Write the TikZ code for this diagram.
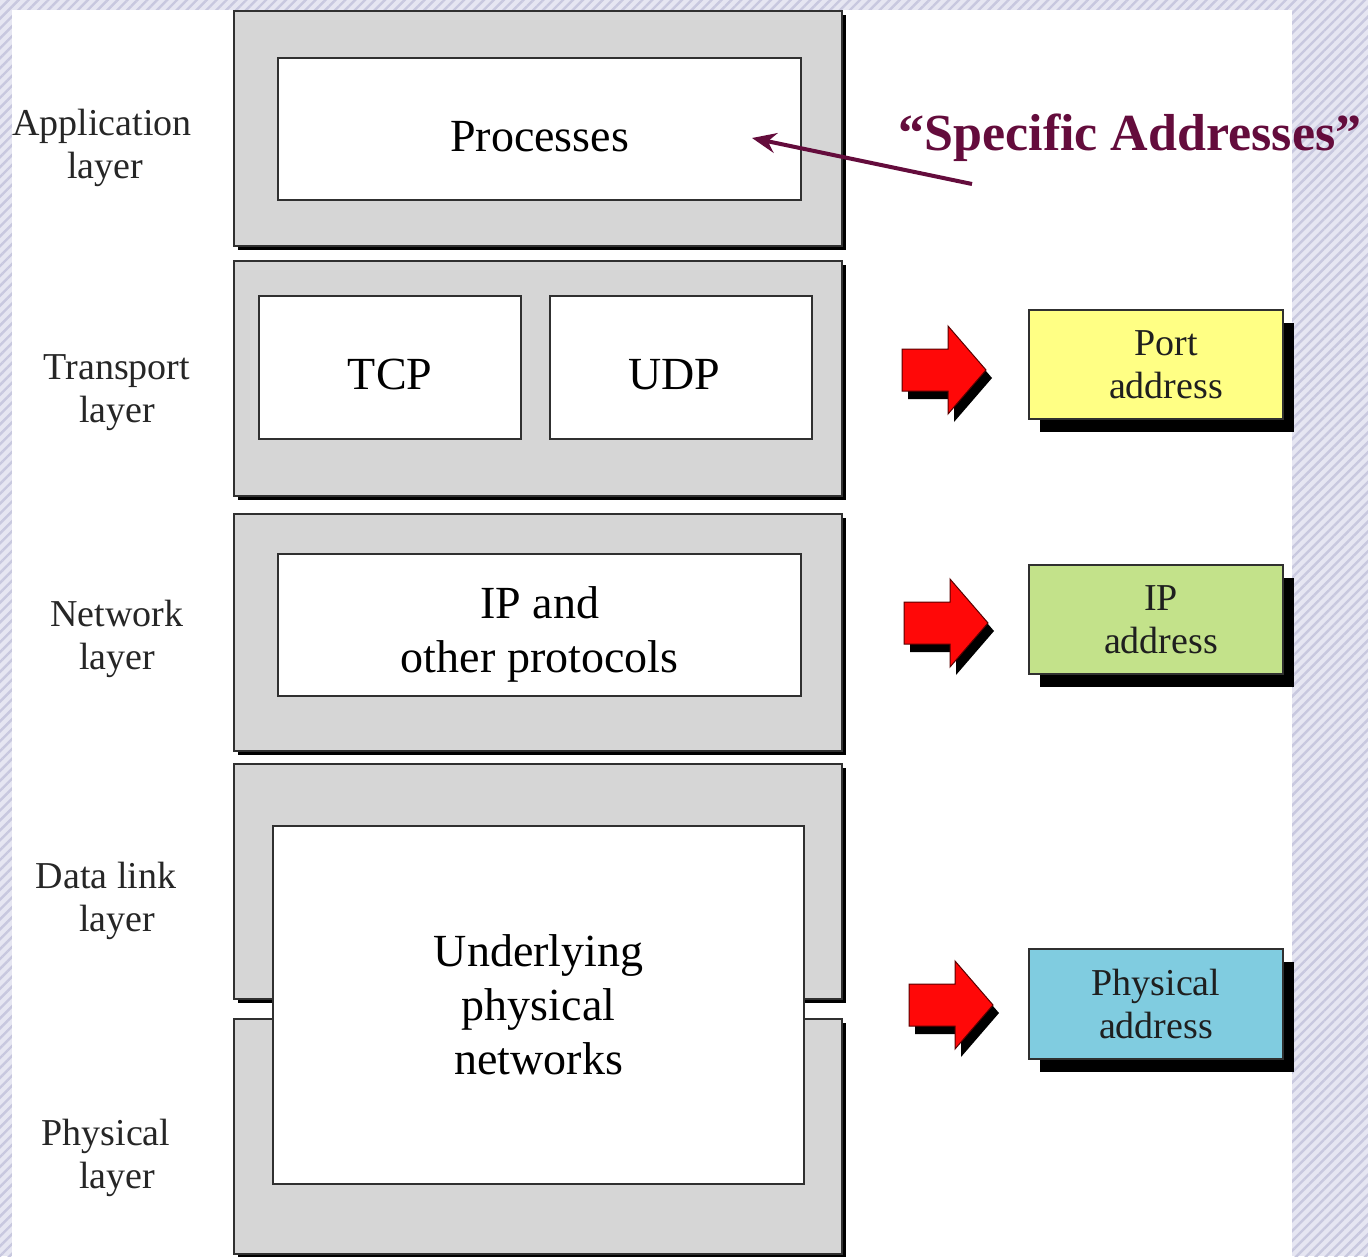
\documentclass[tikz,border=0pt]{standalone}
\usepackage{fontspec}
\setmainfont{Liberation Serif}
\usetikzlibrary{patterns.meta,shadows,arrows.meta}

\definecolor{hatchbase}{HTML}{E6E6F2}
\definecolor{hatchline}{HTML}{C8C8DF}
\definecolor{layergray}{HTML}{D6D6D6}
\definecolor{edgegray}{HTML}{303030}
\definecolor{portyellow}{HTML}{FFFF84}
\definecolor{ipgreen}{HTML}{C3E28A}
\definecolor{phyblue}{HTML}{80CCE0}
\definecolor{plum}{RGB}{100,12,60}
\definecolor{arrowred}{HTML}{FF0808}

\begin{document}
\begin{tikzpicture}[x=1pt,y=-1pt,
  layerbox/.style={draw=edgegray, line width=2pt, fill=layergray,
    anchor=north west, inner sep=0pt, minimum width=608pt,
    drop shadow={shadow xshift=4pt, shadow yshift=-4pt, fill=black, opacity=1}},
  innerbox/.style={draw=edgegray, line width=2.2pt, fill=white,
    anchor=north west, inner sep=0pt, align=center,
    font=\fontsize{46}{54}\selectfont},
  lowtext/.style={text height=44pt, text depth=0pt},
  addrbox/.style={draw=edgegray, line width=2pt, anchor=north west,
    inner sep=0pt, minimum width=254pt, align=center,
    font=\fontsize{38}{43}\selectfont, text=black!88,
    drop shadow={shadow xshift=11pt, shadow yshift=-13pt, fill=black, opacity=1}},
  lbl/.style={font=\fontsize{38}{43}\selectfont, align=center, text=black!85},
  redarrow/.pic={
    \fill[black, shift={(6,8)}]
      (0,-21) -- (46,-21) -- (46,-44) -- (84,0) -- (46,44) -- (46,21) -- (0,21) -- cycle;
    \filldraw[fill=arrowred, draw=red!35!black, line width=1pt]
      (0,-21) -- (46,-21) -- (46,-44) -- (84,0) -- (46,44) -- (46,21) -- (0,21) -- cycle;
  }]

\useasboundingbox (0,0) rectangle (1368,1256);

% hatched backdrop with white panel
\fill[hatchbase] (0,0) rectangle (1368,1256);
\fill[pattern={Lines[angle=45,distance=7pt,line width=2.4pt]}, pattern color=hatchline]
  (0,0) rectangle (1368,1256);
\fill[white] (12,10) rectangle (1292,1262);

% protocol stack
\node[layerbox, minimum height=235pt] (app)  at (233,10)   {};
\node[layerbox, minimum height=235pt] (trn)  at (233,260)  {};
\node[layerbox, minimum height=237pt] (net)  at (233,513)  {};
\node[layerbox, minimum height=235pt] (dll)  at (233,763)  {};
\node[layerbox, minimum height=235pt] (phy)  at (233,1018) {};

\node[innerbox, lowtext, minimum width=523pt, minimum height=142pt] (proc) at (277,57)  {Processes};
\node[innerbox, lowtext, minimum width=262pt, minimum height=143pt] (tcp)  at (258,295) {TCP};
\node[innerbox, lowtext, minimum width=262pt, minimum height=143pt] (udp)  at (549,295)
  {UDP\hspace*{14pt}};
\node[innerbox, minimum width=523pt, minimum height=142pt] (ip)   at (277,553)
  {\rule{0pt}{50pt}IP and\\other protocols};
\node[innerbox, minimum width=531pt, minimum height=358pt] (under) at (272,825)
  {Underlying\\physical\\networks};

% layer names
\node[lbl] (lapp) at (102,148)  {Application\\\hspace*{6pt}layer};
\node[lbl] (ltrn) at (117,393)  {Transport\\layer};
\node[lbl] (lnet) at (117,639)  {Network\\layer};
\node[lbl] (ldll) at (106,901)  {Data link\\\hspace*{22pt}layer};
\node[lbl] (lphy) at (106,1158) {Physical\\\hspace*{22pt}layer};

% address kinds
\node[addrbox, fill=portyellow, minimum height=109pt] (port) at (1028,309)
  {\hspace*{20pt}Port\\\hspace*{20pt}address};
\node[addrbox, fill=ipgreen,    minimum height=109pt] (ipad) at (1028,564)
  {\hspace*{10pt}IP\\\hspace*{10pt}address};
\node[addrbox, fill=phyblue,    minimum height=110pt] (phad) at (1028,948) {Physical\\address};

\pic (toport) at (902,370)  {redarrow};
\pic (toip)   at (904,623)  {redarrow};
\pic (tophy)  at (909,1005) {redarrow};

% specific addresses callout
\node[font=\fontsize{52}{58}\selectfont\bfseries, text=plum] (spec) at (1130,138)
  {“Specific Addresses”};
\coordinate (specTail) at (972,184);
\coordinate (specHead) at (752,138);
\draw[plum, line width=4pt, -{Stealth[length=24pt,width=20pt]}] (specTail) -- (specHead);

\end{tikzpicture}
\end{document}
